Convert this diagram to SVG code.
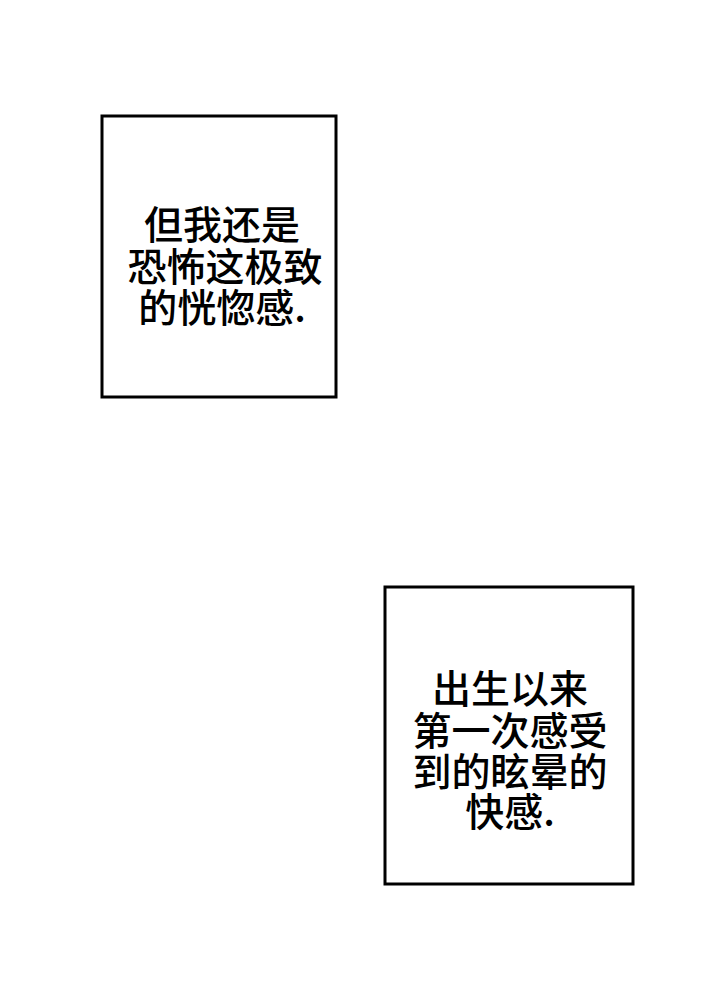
<svg xmlns="http://www.w3.org/2000/svg" width="720" height="992" viewBox="0 0 720 992">
<style>
.box{fill:#fff;stroke:#000;stroke-width:3}
.t{font-family:"Noto Sans CJK SC","Noto Sans",sans-serif;font-size:39px;font-weight:500;fill:#000;text-anchor:middle}
</style>
<rect width="720" height="992" fill="#fff"/>
<g id="box1">
<rect class="box" x="102" y="116" width="234" height="281"/>
<text class="t" x="222" y="239">但我还是</text>
<text class="t" x="225" y="281">恐怖这极致</text>
<text class="t" x="222" y="322">的恍惚感.</text>
</g>
<g id="box2">
<rect class="box" x="385" y="587" width="248" height="297"/>
<text class="t" x="510" y="703">出生以来</text>
<text class="t" x="510" y="745">第一次感受</text>
<text class="t" x="510" y="786">到的眩晕的</text>
<text class="t" x="510" y="826">快感.</text>
</g>
<g id="connectors"/>
</svg>
